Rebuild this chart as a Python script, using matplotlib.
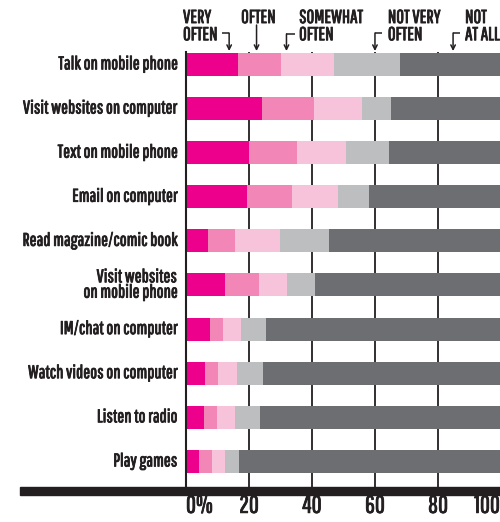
import matplotlib
matplotlib.use("Agg")
from matplotlib import pyplot as plt
from matplotlib import patheffects as pe
from matplotlib.patches import Rectangle

# activities, top to bottom
activities = [
    "Talk on mobile phone",
    "Visit websites on computer",
    "Text on mobile phone",
    "Email on computer",
    "Read magazine/comic book",
    "Visit websites\non mobile phone",
    "IM/chat on computer",
    "Watch videos on computer",
    "Listen to radio",
    "Play games",
]

# share of respondents (%) per frequency
very_often = [16.5, 24.0, 20.0, 19.4, 7.0, 12.4, 7.6, 6.0, 5.7, 4.1]
often = [13.7, 16.5, 15.2, 14.3, 8.6, 10.8, 4.1, 4.2, 4.1, 4.2]
somewhat_often = [16.8, 15.3, 15.6, 14.6, 14.2, 8.9, 5.8, 6.0, 5.8, 4.1]
not_very_often = [20.9, 9.2, 13.6, 9.8, 15.6, 8.8, 7.9, 8.2, 7.9, 4.4]
not_at_all = [32.1, 34.9, 35.6, 41.9, 54.6, 59.1, 74.6, 75.6, 76.5, 83.2]

series = [very_often, often, somewhat_often, not_very_often, not_at_all]
colors = ["#EC008C", "#F287B7", "#F7C3DA", "#BCBEC0", "#6D6E71"]

x_ticks = [0, 20, 40, 60, 80, 100]
x_tick_labels = ["0%", "20", "40", "60", "80", "100"]

INK = "#231F20"
plt.rcParams["font.family"] = ["Pathway Gothic One", "DejaVu Sans"]
# slightly heavier strokes for the condensed face
heavy = [pe.withStroke(linewidth=0.6, foreground=INK)]

W, H = 500, 522
fig = plt.figure(figsize=(W / 100, H / 100), dpi=100)

# axes spans pixel x 186..500 and y 52..487
ax = fig.add_axes([186 / W, (H - 487) / H, (W - 186) / W, (487 - 52) / H])
ax.set_xlim(0, 99.7)
ax.set_ylim(9.58, -0.28)

ys = list(range(len(activities)))
left = [0.0] * len(activities)
for vals, c in zip(series, colors):
    ax.barh(ys, vals, left=left, height=0.52, color=c, edgecolor="none", zorder=3)
    left = [l + v for l, v in zip(left, vals)]

for g in x_ticks[1:-1]:
    ax.axvline(g, color=INK, lw=1.3, zorder=1)

for s in ["top", "right", "bottom"]:
    ax.spines[s].set_visible(False)
ax.spines["left"].set_color(INK)
ax.spines["left"].set_linewidth(1.5)
ax.spines["left"].set_zorder(4)
ax.set_xticks([])
ax.set_yticks([])

for y, name in zip(ys, activities):
    ax.text(-2.8, y, name, ha="right", va="center", multialignment="right",
            fontsize=13.2, color=INK, linespacing=0.95, clip_on=False,
            path_effects=heavy)

# thick baseline under the chart
fig.patches.append(Rectangle((20 / W, (H - 495) / H), (W - 20) / W, 8 / H,
                             transform=fig.transFigure, color=INK))

# x labels under the baseline
for t, lab in zip(x_ticks, x_tick_labels):
    ha = "center"
    xpos = t
    if t == 0:
        ha, xpos = "left", 0
    elif t == 100:
        ha, xpos = "right", 99.7
    ax.text(xpos, 9.78, lab, ha=ha, va="top", fontsize=17.5, color=INK,
            clip_on=False, path_effects=heavy)

# frequency key above the first bar
def py(p):
    # pixel row -> data y
    return (p - 64.3) / 44.1

key = [
    ("VERY\nOFTEN", -0.95),
    ("OFTEN", 17.5),
    ("SOMEWHAT\nOFTEN", 35.9),
    ("NOT VERY\nOFTEN", 64.1),
    ("NOT\nAT ALL", 88.6),
]
for lab, x in key:
    ax.text(x, py(8), lab, ha="left", va="top", fontsize=13.5, color=INK,
            linespacing=0.88, clip_on=False, path_effects=heavy)

# (start x, elbow x, start y) for each pointer
pointers = [
    (11.4, 13.7, 33),
    (22.4, 22.4, 25),
    (34.6, 31.9, 34),
    (62.1, 60.0, 33),
    (87.0, 84.8, 33),
]
for x0, x1, y0 in pointers:
    if x0 != x1:
        ax.plot([x0, x1], [py(y0), py(y0)], color=INK, lw=1.1, clip_on=False,
                solid_capstyle="butt")
    ax.annotate("", xy=(x1, py(51)), xytext=(x1, py(y0)),
                arrowprops=dict(arrowstyle="->", color=INK, lw=1.1,
                                shrinkA=0, shrinkB=0,
                                mutation_scale=8),
                annotation_clip=False)

fig.savefig("out.png", dpi=100)
